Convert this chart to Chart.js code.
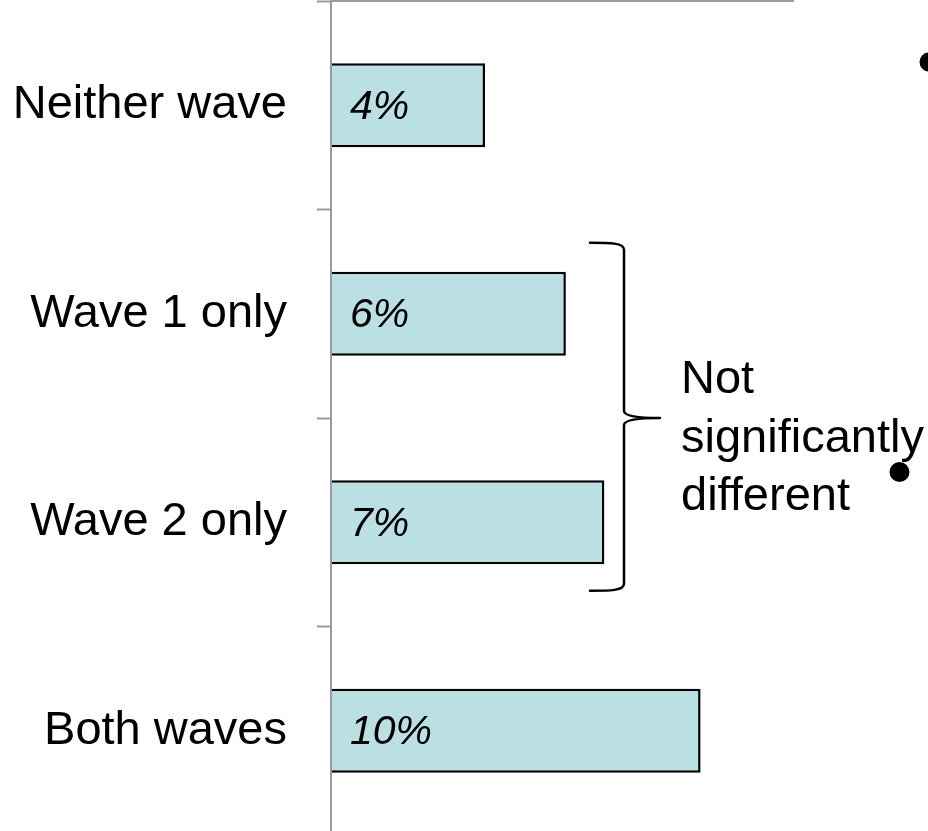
<!DOCTYPE html>
<html>
<head>
<meta charset="utf-8">
<script src="https://cdn.jsdelivr.net/npm/chart.js@4/dist/chart.umd.min.js"></script>
<style>
  html, body { margin: 0; padding: 0; background: #fff; width: 928px; height: 831px; overflow: hidden; }
  #wrap { position: relative; width: 928px; height: 836px; }
  canvas { display: block; }
</style>
</head>
<body>
<div id="wrap"><canvas id="chart" width="928" height="836"></canvas></div>
<script>
// Share of respondents, by wave participation
const categories = ['Neither wave', 'Wave 1 only', 'Wave 2 only', 'Both waves'];
const shares = [4.0, 6.1, 7.1, 9.6];
const bracketNote = ['Not', 'significantly', 'different'];
const bracketFrom = 1;   // first category covered by the brace
const bracketTo = 2;     // last category covered by the brace

const FONT = "'Liberation Sans', Arial, Helvetica, sans-serif";

// Italic percentage written inside each bar, near its base
const barLabels = {
  id: 'barLabels',
  afterDatasetsDraw(chart) {
    const ctx = chart.ctx;
    const x0 = chart.scales.x.getPixelForValue(0);
    const meta = chart.getDatasetMeta(0);
    ctx.save();
    ctx.font = 'italic 41px ' + FONT;
    ctx.fillStyle = '#000';
    ctx.textAlign = 'left';
    ctx.textBaseline = 'middle';
    meta.data.forEach((bar, i) => {
      ctx.fillText(Math.round(shares[i]) + '%', x0 + 19, bar.y + 2);
    });
    ctx.restore();
  }
};

// Curly brace grouping the two single-wave bars, with its note
const brace = {
  id: 'brace',
  afterDraw(chart) {
    const ctx = chart.ctx;
    const y = chart.scales.y;
    const top = y.getPixelForValue(bracketFrom) - 71;
    const bottom = y.getPixelForValue(bracketTo) + 68.5;
    const mid = (y.getPixelForValue(bracketFrom) + y.getPixelForValue(bracketTo)) / 2;
    const xl = chart.chartArea.left + 259;   // open ends
    const xs = xl + 34;                        // spine
    const xt = xl + 70;                        // tip
    const r = 7;
    ctx.save();
    ctx.strokeStyle = '#000';
    ctx.lineWidth = 2.5;
    ctx.lineCap = 'round';
    ctx.beginPath();
    ctx.moveTo(xl, top);
    ctx.bezierCurveTo(xl + 20, top, xs, top, xs, top + r);
    ctx.lineTo(xs, mid - r);
    ctx.quadraticCurveTo(xs, mid, xt, mid);
    ctx.moveTo(xt, mid);
    ctx.quadraticCurveTo(xs, mid, xs, mid + r);
    ctx.lineTo(xs, bottom - r);
    ctx.bezierCurveTo(xs, bottom, xl + 20, bottom, xl, bottom);
    ctx.stroke();

    ctx.font = '47px ' + FONT;
    ctx.fillStyle = '#000';
    ctx.textAlign = 'left';
    ctx.textBaseline = 'alphabetic';
    const lineH = 58.5;
    bracketNote.forEach((t, i) => {
      ctx.fillText(t, xt + 21, mid - 25 + i * lineH);
    });

    // bullets of the neighbouring text column
    ctx.beginPath();
    ctx.arc(929, 62, 9.5, 0, Math.PI * 2);
    ctx.arc(899.5, 472, 10, 0, Math.PI * 2);
    ctx.fill();
    ctx.restore();
  }
};

new Chart(document.getElementById('chart'), {
  type: 'bar',
  data: {
    labels: categories,
    datasets: [{
      data: shares,
      backgroundColor: '#BBE0E3',
      borderColor: '#000',
      borderWidth: 2.5,
      categoryPercentage: 0.8,
      barPercentage: 0.505
    }]
  },
  options: {
    indexAxis: 'y',
    responsive: false,
    animation: false,
    devicePixelRatio: 1,
    layout: { padding: { top: 1, right: 135, bottom: 1, left: 0 } },
    plugins: {
      legend: { display: false },
      tooltip: { enabled: false },
      title: { display: false }
    },
    scales: {
      x: {
        position: 'top',
        min: 0,
        max: 12,
        ticks: { display: false },
        grid: { display: false, drawTicks: false },
        border: { display: true, color: '#9a9a9a', width: 2 }
      },
      y: {
        position: 'left',
        ticks: {
          color: '#000',
          font: { family: FONT, size: 47 },
          padding: 30
        },
        grid: {
          display: true,
          drawOnChartArea: false,
          drawTicks: true,
          tickLength: 14,
          tickColor: '#9a9a9a',
          tickWidth: 2
        },
        border: { display: true, color: '#9a9a9a', width: 2, z: 1 },
        afterFit(scale) {
          scale.width = 331;
          scale.paddingTop = 0;
          scale.paddingBottom = 0;
        }
      }
    }
  },
  plugins: [barLabels, brace]
});
</script>
</body>
</html>
